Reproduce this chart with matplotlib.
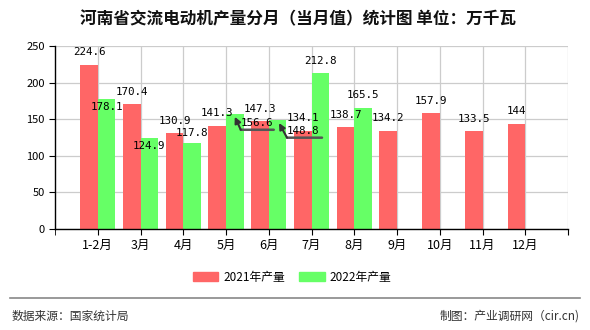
import matplotlib.pyplot as plt
from matplotlib.transforms import offset_copy
from matplotlib.patches import Patch

plt.rcParams['font.family'] = ['Noto Sans CJK SC', 'DejaVu Sans']

months = ['1-2月', '3月', '4月', '5月', '6月', '7月', '8月', '9月', '10月', '11月', '12月']
prod_2021 = [224.6, 170.4, 130.9, 141.3, 147.3, 134.1, 138.7, 134.2, 157.9, 133.5, 144]
prod_2022 = [178.1, 124.9, 117.8, 156.6, 148.8, 212.8, 165.5]
labels_2021 = ['224.6', '170.4', '130.9', '141.3', '147.3', '134.1', '138.7', '134.2', '157.9', '133.5', '144']
labels_2022 = ['178.1', '124.9', '117.8', '156.6', '148.8', '212.8', '165.5']

RED = '#ff6666'
GREEN = '#66ff66'

fig = plt.figure(figsize=(5.9, 3.3), dpi=100)
ax = fig.add_axes([55 / 590, 101 / 330, 513 / 590, 183 / 330])

pos = list(range(1, len(months) + 1))
w = 0.41
ax.bar(pos, prod_2021, width=w, align='edge', color=RED, zorder=2)
ax.bar(pos[:len(prod_2022)], prod_2022, width=-w, align='edge', color=GREEN, zorder=2)
# red sits left of the tick, green right of it
for b in ax.patches[:len(prod_2021)]:
    b.set_x(b.get_x() - w)
for b in ax.patches[len(prod_2021):]:
    b.set_x(b.get_x() + w)

ax.set_xlim(0, 12)
ax.set_ylim(0, 250)
ax.set_xticks(pos + [12])
ax.set_xticklabels(months + [''], fontsize=9)
ax.set_xticks([0], minor=True)
ax.set_yticks(range(0, 251, 50))
ax.tick_params(axis='y', labelsize=8, length=4)
ax.tick_params(axis='x', length=4, pad=3, which='both')
ax.grid(True, color='#cccccc', lw=0.9, zorder=0)
ax.spines['top'].set_visible(False)
ax.spines['right'].set_visible(False)
ax.spines['left'].set_linewidth(1)
ax.spines['bottom'].set_linewidth(1)


def off(dx, dy):
    # offset in pixels, dy positive = downwards
    return offset_copy(ax.transData, fig=fig, x=dx, y=-dy, units='dots')


mono = dict(family='DejaVu Sans Mono', fontsize=7.8, ha='center', va='center', zorder=5)

for x, v, s in zip(pos, prod_2021, labels_2021):
    ax.text(x - w / 2, v, s, transform=off(0, -12.5), **mono)

down = {'178.1': 8.7, '124.9': 8, '117.8': -10}
for x, v, s in zip(pos, prod_2022, labels_2022):
    if s in ('156.6', '148.8'):
        continue
    ax.text(x + w / 2, v, s, transform=off(0, down.get(s, -12.5)), **mono)

# displaced labels with leader lines
leaders = {3: ((22, 9), (6, 39, 15.4), (0, 2.4)),
           4: ((25.5, 10.6), (9.5, 44.5, 17.6), (1.5, 2.9))}
for i, ((tx, ty), (u0, u1, uy), (ax_, ay)) in leaders.items():
    x = pos[i] + w / 2
    v = prod_2022[i]
    ax.text(x, v, labels_2022[i], transform=off(tx, ty), **mono)
    ax.annotate('', xy=(x, v), xycoords=off(u1, uy), xytext=(x, v), textcoords=off(u0, uy),
                arrowprops=dict(arrowstyle='-', color='#555555', lw=1.8, shrinkA=0, shrinkB=0),
                zorder=4)
    ax.annotate('', xy=(x, v), xycoords=off(ax_, ay), xytext=(x, v), textcoords=off(u0, uy),
                arrowprops=dict(arrowstyle='-|>', color='#333333', lw=1.5, mutation_scale=9,
                                shrinkA=0, shrinkB=0),
                zorder=4)

fig.text(297.5 / 590, 1 - 19 / 330, '河南省交流电动机产量分月（当月值）统计图 单位：万千瓦',
         ha='center', va='center', fontsize=12, weight='bold', color='#111111')

handles = [Patch(color=RED), Patch(color=GREEN)]
fig.legend(handles, ['2021年产量', '2022年产量'], loc='center', bbox_to_anchor=(0.495, 1 - 277 / 330),
           ncol=2, frameon=False, fontsize=8.5, handlelength=2.2, handleheight=0.9,
           columnspacing=1.2, handletextpad=0.4)

fig.add_artist(plt.Line2D([10 / 590, 580 / 590], [1 - 298 / 330] * 2, color='#888888', lw=1.2))
fig.text(12 / 590, 1 - 316 / 330, '数据来源：国家统计局', fontsize=8.5, color='#333333', va='center')
fig.text(580 / 590, 1 - 316 / 330, '制图：产业调研网（cir.cn)', fontsize=8.5, color='#333333',
         va='center', ha='right')

fig.savefig('out.png', dpi=100)
